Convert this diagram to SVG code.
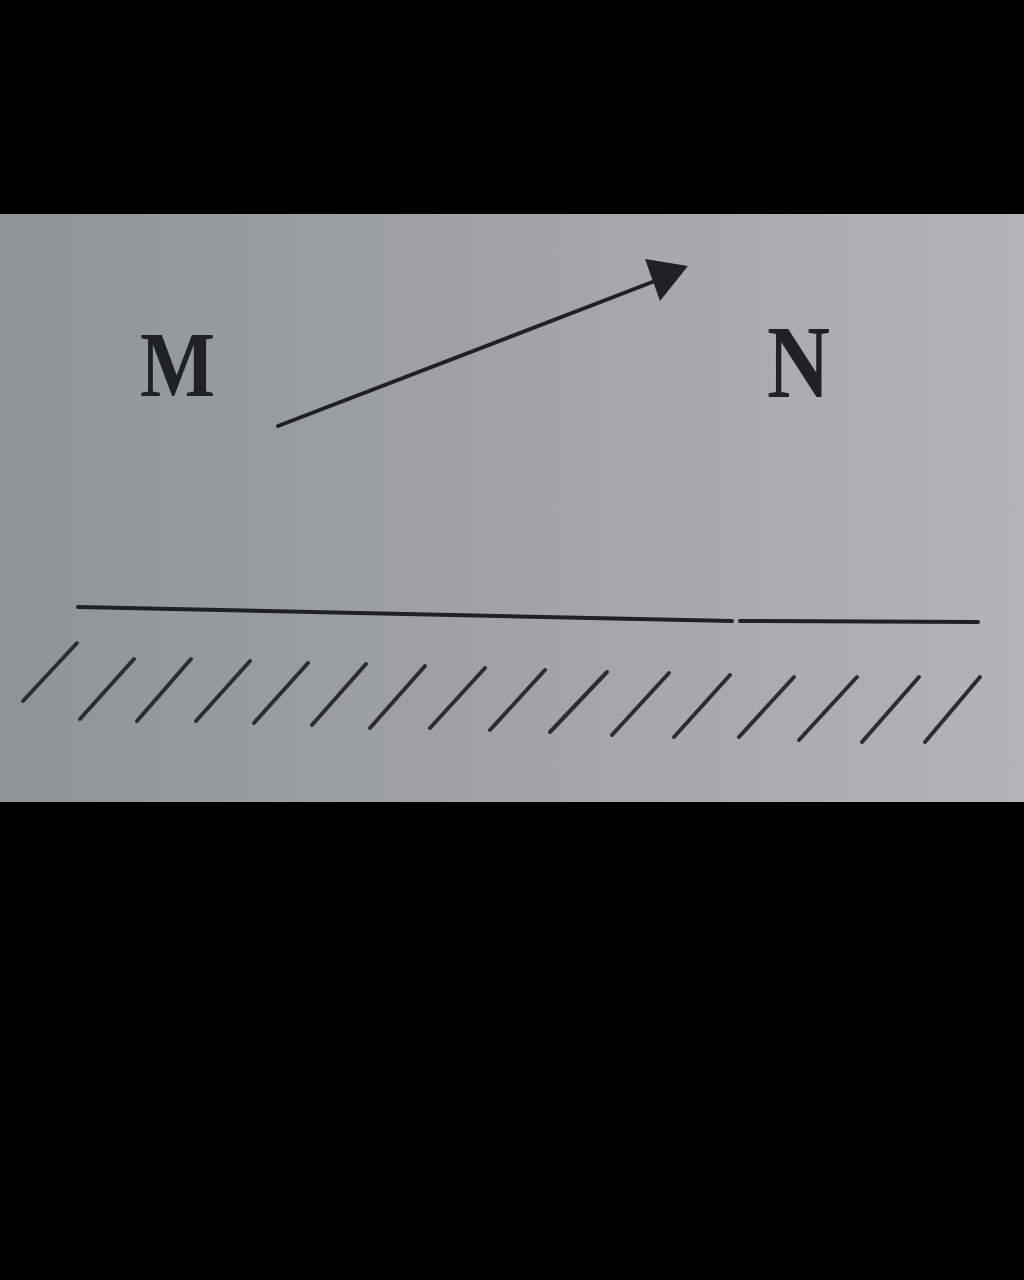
<svg xmlns="http://www.w3.org/2000/svg" width="1024" height="1280" viewBox="0 0 1024 1280">
<defs>
<linearGradient id="paper" x1="0" y1="0" x2="1" y2="0">
<stop offset="0" stop-color="#8f9496"/>
<stop offset="0.5" stop-color="#a0a4a6"/>
<stop offset="1" stop-color="#b1b5b7"/>
</linearGradient>
<style>
.lbl{font-family:"Liberation Serif","Times New Roman",serif;font-weight:bold;fill:#1e2224;}
.h{stroke:#2a2e30;stroke-width:4;stroke-linecap:round;}
.g{stroke:#1e2224;stroke-width:4;stroke-linecap:round;fill:none;}
</style>
</defs>
<rect x="0" y="0" width="1024" height="1280" fill="#000"/>
<rect x="0" y="214" width="1024" height="588" fill="url(#paper)"/>
<g id="label-M"><text class="lbl" x="140" y="396" font-size="94" textLength="75" lengthAdjust="spacingAndGlyphs">M</text></g>
<g id="label-N"><text class="lbl" x="767" y="397" font-size="104" textLength="63" lengthAdjust="spacingAndGlyphs">N</text></g>
<g id="connectors">
<line class="g" x1="278" y1="426" x2="655" y2="281"/>
<path d="M688,266 L645,259 L660,301 Z" fill="#1e2224"/>
</g>
<g id="ground">
<path class="g" d="M78,607 L732,621 M740,621 L978,622"/>
<line class="h" x1="77" y1="643" x2="23" y2="701"/>
<line class="h" x1="134" y1="659" x2="80" y2="719"/>
<line class="h" x1="191" y1="659" x2="137" y2="721"/>
<line class="h" x1="250" y1="661" x2="196" y2="721"/>
<line class="h" x1="308" y1="663" x2="254" y2="723"/>
<line class="h" x1="366" y1="664" x2="312" y2="725"/>
<line class="h" x1="425" y1="666" x2="370" y2="728"/>
<line class="h" x1="485" y1="668" x2="430" y2="728"/>
<line class="h" x1="545" y1="670" x2="490" y2="730"/>
<line class="h" x1="607" y1="672" x2="550" y2="732"/>
<line class="h" x1="669" y1="673" x2="612" y2="735"/>
<line class="h" x1="730" y1="675" x2="674" y2="737"/>
<line class="h" x1="794" y1="677" x2="739" y2="737"/>
<line class="h" x1="857" y1="677" x2="799" y2="740"/>
<line class="h" x1="919" y1="677" x2="862" y2="742"/>
<line class="h" x1="980" y1="677" x2="925" y2="742"/>
</g>
</svg>
